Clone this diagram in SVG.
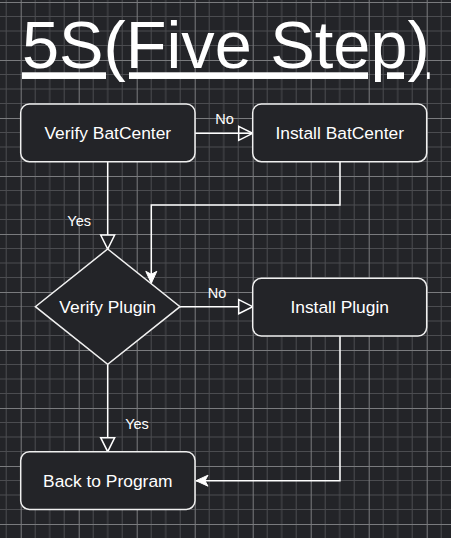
<svg xmlns="http://www.w3.org/2000/svg" width="451" height="538" viewBox="0 0 451 538">
  <style>
    .node { fill: #232428; stroke: #f0f0f0; stroke-width: 1.5; }
    .edge { fill: none; stroke: #ffffff; stroke-width: 1.5; }
    .lbl { font-family: "Liberation Sans", Arial, sans-serif; font-size: 17.4px; fill: #ffffff; text-anchor: middle; }
    .elbl { font-family: "Liberation Sans", Arial, sans-serif; font-size: 14.5px; fill: #ffffff; text-anchor: middle; }
    .title { font-family: "Liberation Sans", Arial, sans-serif; font-size: 66.7px; fill: #ffffff; text-decoration: underline; }
  </style>
  <defs>
    <pattern id="grid" patternUnits="userSpaceOnUse" x="20.7" y="2" width="58" height="58">
      <rect width="58" height="58" fill="#232428"/>
      <g stroke="#4b4c50" stroke-width="1">
        <line x1="14.5" y1="0" x2="14.5" y2="58"/>
        <line x1="29" y1="0" x2="29" y2="58"/>
        <line x1="43.5" y1="0" x2="43.5" y2="58"/>
        <line x1="0" y1="14.5" x2="58" y2="14.5"/>
        <line x1="0" y1="29" x2="58" y2="29"/>
        <line x1="0" y1="43.5" x2="58" y2="43.5"/>
      </g>
      <g stroke="#7a7b7e" stroke-width="1">
        <line x1="0.5" y1="0" x2="0.5" y2="58"/>
        <line x1="0" y1="0.5" x2="58" y2="0.5"/>
      </g>
    </pattern>
    <marker id="hollow" markerUnits="userSpaceOnUse" markerWidth="16" markerHeight="16" refX="14" refY="7" orient="auto" overflow="visible">
      <path d="M0,0 L14,7 L0,14 Z" fill="#232428" stroke="#ffffff" stroke-width="1.5"/>
    </marker>
    <marker id="hollowthru" markerUnits="userSpaceOnUse" markerWidth="16" markerHeight="16" refX="14" refY="7" orient="auto" overflow="visible">
      <path d="M0,0 L14,7 L0,14 Z" fill="none" stroke="#ffffff" stroke-width="1.5"/>
    </marker>
    <marker id="classic" markerUnits="userSpaceOnUse" markerWidth="14" markerHeight="12" refX="12" refY="5.5" orient="auto" overflow="visible">
      <path d="M0,0 L12,5.5 L0,11 L3,5.5 Z" fill="#ffffff" stroke="#ffffff" stroke-width="1"/>
    </marker>
  </defs>

  <rect x="0" y="0" width="451" height="538" fill="url(#grid)"/>

  <g id="title">
    <text class="title" x="22" y="68.3">5S(Five Step)</text>
  </g>

  <g id="connectors">
    <path class="edge" d="M195,133.3 L252.7,133.3" marker-end="url(#hollowthru)"/>
    <path class="edge" d="M107.7,161.7 L107.7,249" marker-end="url(#hollow)"/>
    <path class="edge" d="M340,161.7 L340,205 L151.3,205 L151.3,283.3" marker-end="url(#classic)"/>
    <path class="edge" d="M180,306.7 L252.7,306.7" marker-end="url(#hollow)"/>
    <path class="edge" d="M107.7,364.3 L107.7,451.7" marker-end="url(#hollow)"/>
    <path class="edge" d="M340,336 L340,480.7 L196,480.7" marker-end="url(#classic)"/>
    <text class="elbl" x="224.5" y="123.5">No</text>
    <text class="elbl" x="79.2" y="226">Yes</text>
    <text class="elbl" x="217" y="297.5">No</text>
    <text class="elbl" x="137" y="428.5">Yes</text>
  </g>

  <g id="verify-batcenter">
    <rect class="node" x="20.7" y="104" width="174.3" height="57.7" rx="8.7" ry="8.7"/>
    <text class="lbl" x="107.8" y="139.3">Verify BatCenter</text>
  </g>

  <g id="install-batcenter">
    <rect class="node" x="252.7" y="104" width="174" height="57.7" rx="8.7" ry="8.7"/>
    <text class="lbl" x="339.7" y="139.3">Install BatCenter</text>
  </g>

  <g id="verify-plugin">
    <path class="node" d="M107.7,249 L180,306.7 L107.7,364.3 L35.4,306.7 Z"/>
    <text class="lbl" x="107.7" y="312.8">Verify Plugin</text>
  </g>

  <g id="install-plugin">
    <rect class="node" x="252.7" y="278.3" width="174" height="57.7" rx="8.7" ry="8.7"/>
    <text class="lbl" x="339.7" y="313.4">Install Plugin</text>
  </g>

  <g id="back-to-program">
    <rect class="node" x="20.7" y="451.7" width="174.3" height="57.7" rx="8.7" ry="8.7"/>
    <text class="lbl" x="107.8" y="486.9">Back to Program</text>
  </g>
</svg>
